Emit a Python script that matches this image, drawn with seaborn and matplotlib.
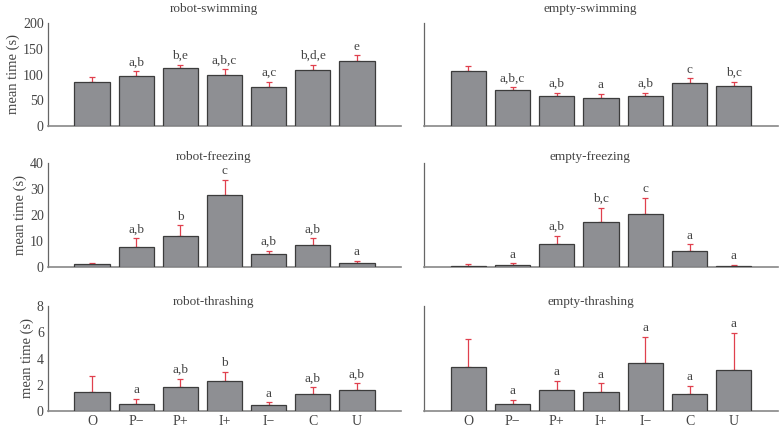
import matplotlib
matplotlib.use("Agg")
import matplotlib.pyplot as plt
import numpy as np
import pandas as pd
import seaborn as sns

# treatments along the x axis
conditions = ["O", "P\u2212", "P+", "I+", "I\u2212", "C", "U"]

# mean times and upper error (s)
robot_swim = [86, 97, 113, 100, 76, 108, 127]
robot_swim_err = [10, 9, 6, 10, 10, 11, 10]
empty_swim = [107, 69, 59, 55, 59, 83, 78]
empty_swim_err = [10, 6, 6, 8, 6, 10, 8]

robot_freeze = [1.2, 7.8, 12.0, 27.6, 5.0, 8.5, 1.7]
robot_freeze_err = [0.3, 3.2, 4.0, 6.0, 1.3, 2.5, 0.6]
empty_freeze = [0.5, 0.9, 8.8, 17.3, 20.3, 6.3, 0.4]
empty_freeze_err = [0.5, 0.6, 3.2, 5.5, 6.2, 2.5, 0.4]

robot_thrash = [1.41, 0.54, 1.80, 2.26, 0.44, 1.29, 1.57]
robot_thrash_err = [1.24, 0.39, 0.67, 0.72, 0.23, 0.51, 0.53]
empty_thrash = [3.32, 0.57, 1.60, 1.44, 3.65, 1.31, 3.16]
empty_thrash_err = [2.18, 0.28, 0.69, 0.66, 2.01, 0.59, 2.80]

# significance letters above each bar
robot_swim_lab = ["", "a,b", "b,e", "a,b,c", "a,c", "b,d,e", "e"]
empty_swim_lab = ["", "a,b,c", "a,b", "a", "a,b", "c", "b,c"]
robot_freeze_lab = ["", "a,b", "b", "c", "a,b", "a,b", "a"]
empty_freeze_lab = ["", "a", "a,b", "b,c", "c", "a", "a"]
robot_thrash_lab = ["", "a", "a,b", "b", "a", "a,b", "a,b"]
empty_thrash_lab = ["", "a", "a", "a", "a", "a", "a"]

# y axis per row
row_ylim = [200, 40, 8]
row_ystep = [50, 10, 2]

panels = [
    ("robot-swimming", robot_swim, robot_swim_err, robot_swim_lab),
    ("empty-swimming", empty_swim, empty_swim_err, empty_swim_lab),
    ("robot-freezing", robot_freeze, robot_freeze_err, robot_freeze_lab),
    ("empty-freezing", empty_freeze, empty_freeze_err, empty_freeze_lab),
    ("robot-thrashing", robot_thrash, robot_thrash_err, robot_thrash_lab),
    ("empty-thrashing", empty_thrash, empty_thrash_err, empty_thrash_lab),
]

sns.set_style("white")
plt.rcParams["font.family"] = ["Liberation Serif", "DejaVu Serif"]
plt.rcParams["font.size"] = 9.5
text_col = "#444444"
bar_col = "#8e8f93"
edge_col = "#3c3c3c"
err_col = "#e0404e"
spine_col = "#666666"

fig = plt.figure(figsize=(7.79, 4.29), dpi=100)

W, H = 779, 429
col_x = [(48, 401), (424, 778)]
row_y = [(23, 126), (163, 267), (306, 411)]
title_pad = [8, 0.5, 0.5]

for i, (title, vals, errs, labs) in enumerate(panels):
    r, c = divmod(i, 2)
    x0, x1 = col_x[c]
    y0, y1 = row_y[r]
    ax = fig.add_axes([x0 / W, 1 - y1 / H, (x1 - x0) / W, (y1 - y0) / H])

    df = pd.DataFrame({"cond": conditions, "mean": vals})
    sns.barplot(data=df, x="cond", y="mean", ax=ax, color=bar_col,
                saturation=1, edgecolor=edge_col, linewidth=0.9,
                width=0.8, errorbar=None, zorder=3)
    ax.errorbar(range(len(vals)), vals, yerr=[np.zeros(len(errs)), errs],
                fmt="none", ecolor=err_col, elinewidth=0.9, capsize=2.5,
                capthick=0.9, zorder=2)

    top = row_ylim[r]
    for k, lab in enumerate(labs):
        if lab:
            ax.text(k, vals[k] + errs[k] + top * 0.025, lab, ha="center",
                    va="bottom", color=text_col, fontsize=9.5)

    ax.set_xlim(-1, 7)
    ax.set_ylim(0, top)
    ax.set_xlabel("")
    ax.set_ylabel("")
    ax.set_title(title, color=text_col, fontsize=9.5, x=0.47,
                 pad=title_pad[r])

    for s in ["top", "right"]:
        ax.spines[s].set_visible(False)
    ax.spines["left"].set_color(spine_col)
    ax.spines["bottom"].set_color("#888888")
    ax.spines["left"].set_linewidth(0.9)
    ax.spines["bottom"].set_linewidth(1.2)

    ax.tick_params(axis="x", length=0, colors=text_col, labelsize=10, pad=3)
    if r < 2:
        ax.set_xticklabels([])

    if c == 0:
        ax.set_yticks(np.arange(0, top + 0.01, row_ystep[r]))
        ax.tick_params(axis="y", direction="in", length=3, color=spine_col,
                       labelcolor=text_col, labelsize=10, pad=3)
        ax.set_ylabel("mean time (s)", color=text_col, fontsize=10.5,
                      labelpad=2)
    else:
        ax.set_yticks([])

fig.savefig("out.png", dpi=100)
